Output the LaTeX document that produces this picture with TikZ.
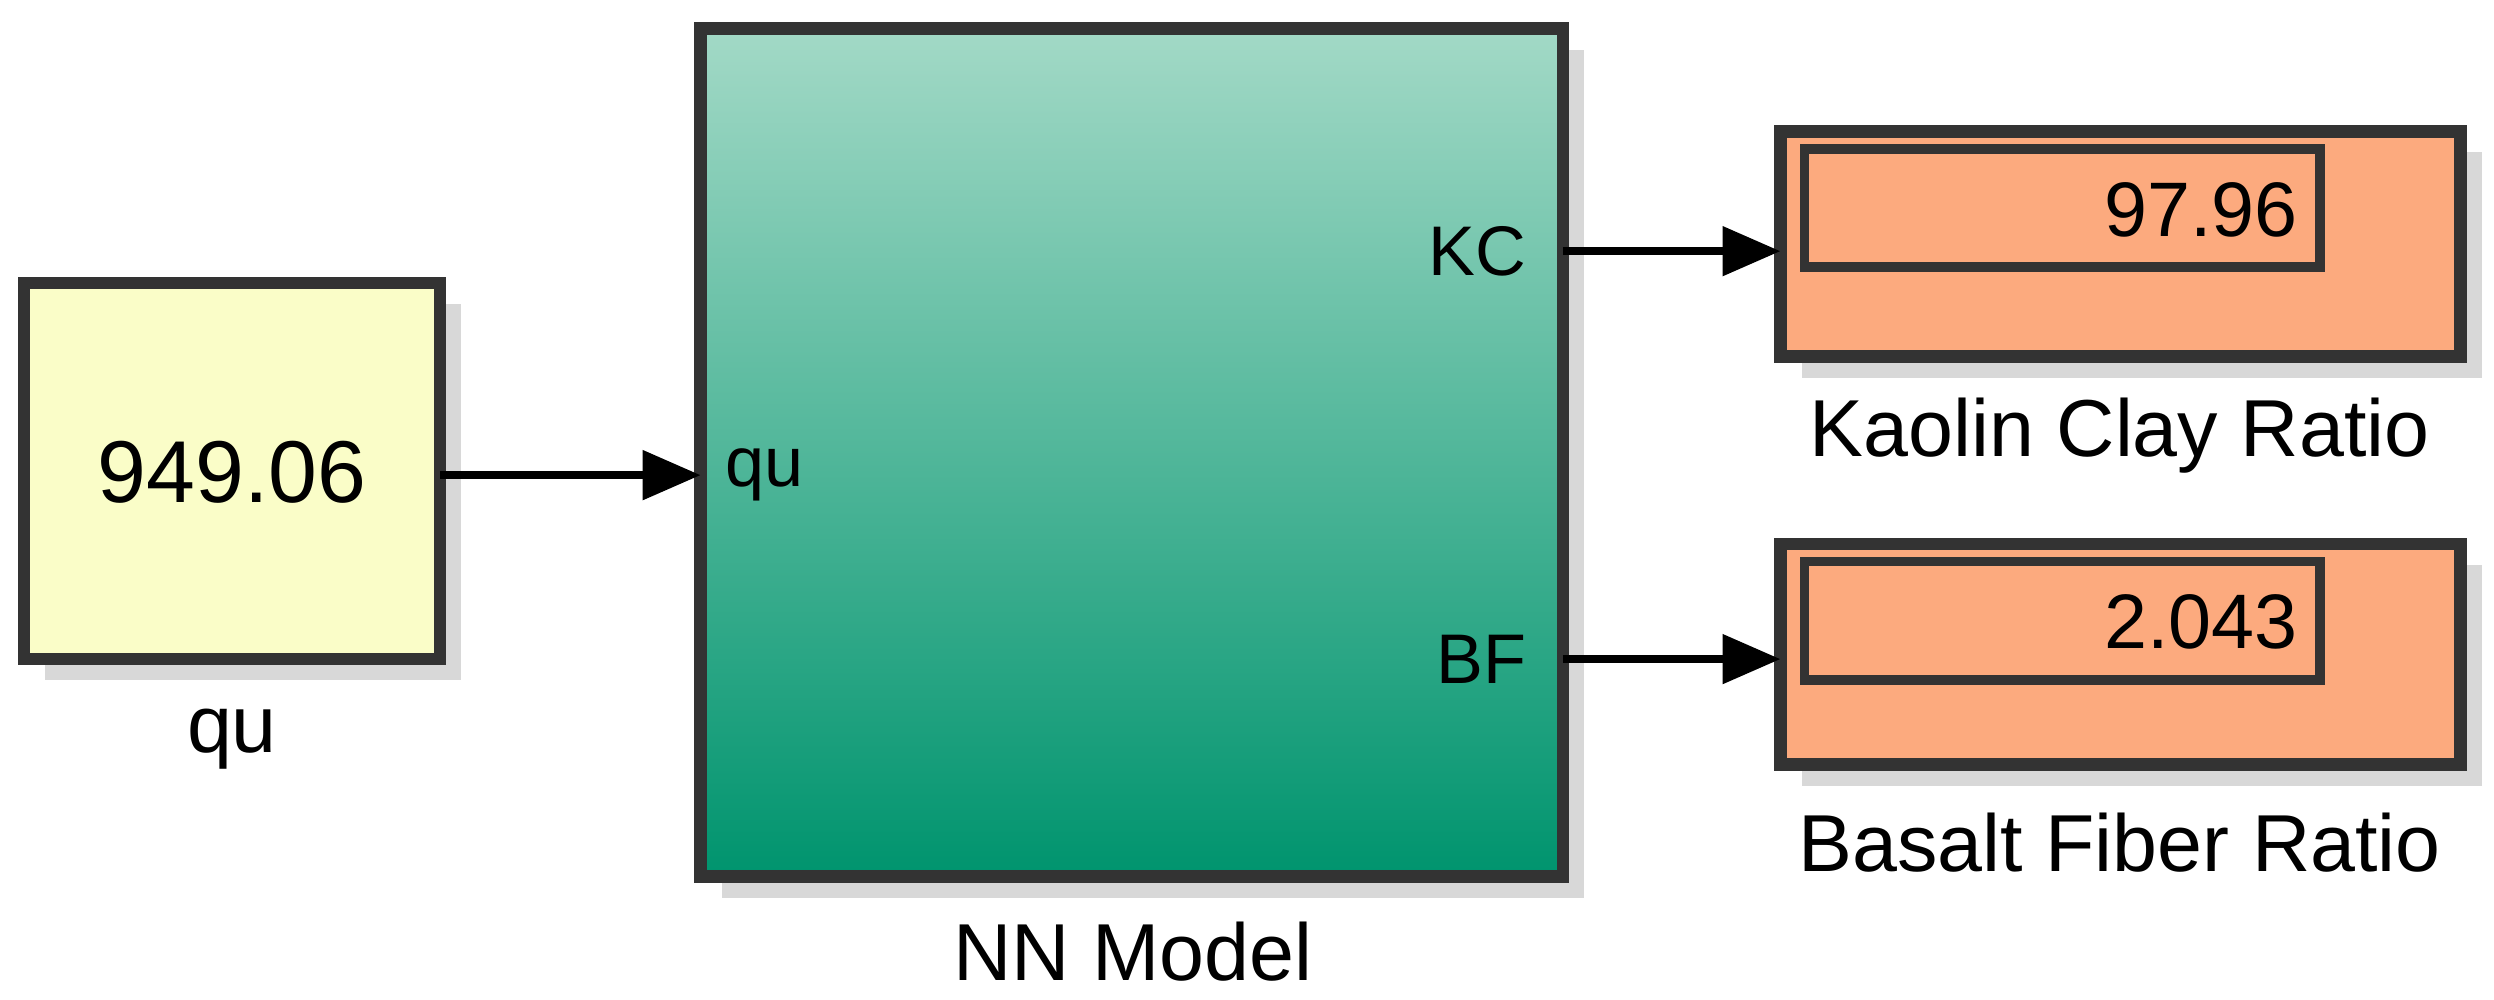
\documentclass[tikz,border=0pt]{standalone}
\usepackage{fontspec}
\setmainfont{Liberation Sans}
\usetikzlibrary{arrows.meta,shadows}
\definecolor{cyel}{HTML}{FAFDC8}
\definecolor{corg}{HTML}{FCAA7E}
\definecolor{gtop}{HTML}{A2D9C6}
\definecolor{gbot}{HTML}{00946E}
\definecolor{bord}{HTML}{333333}
\begin{document}
\begin{tikzpicture}[x=0.016cm,y=-0.016cm,
  blk/.style={draw=bord,line width=3.6pt,drop shadow={shadow xshift=6pt,shadow yshift=-6pt,fill=gray!60}},
  sig/.style={line width=2.4pt,-{Triangle[length=0.58cm,width=0.48cm]}},
  lbl/.style={font=\fontsize{23}{26}\selectfont},
  prt/.style={font=\fontsize{20}{24}\selectfont}]
\useasboundingbox (0,0) rectangle (1559,625);
\fill[white] (0,0) rectangle (1559,625);
% constant
\draw[blk,fill=cyel] (15,177) rectangle (275,412);
\node[font=\fontsize{25}{28}\selectfont] (cval) at (145,295) {949.06};
\coordinate (cout) at (275,297);
\node[lbl] (clbl) at (145,462) {qu};
% NN model
\draw[blk,fill=gtop] (438,18) rectangle (977,548);
\shade[top color=gtop,bottom color=gbot] (439.5,19.5) rectangle (975.5,546.5);
\draw[draw=bord,line width=3.6pt] (438,18) rectangle (977,548);
\node[prt,anchor=west] (pin) at (446,297) {qu};
\node[prt,anchor=east] (pkc) at (962,157) {KC};
\node[prt,anchor=east] (pbf) at (962,412) {BF};
\coordinate (nin) at (438,297);
\coordinate (nkc) at (977,157);
\coordinate (nbf) at (977,412);
\node[lbl] (nlbl) at (708,595) {NN Model};
% displays
\draw[blk,fill=corg] (1113,82) rectangle (1538,223);
\draw[bord,line width=2.8pt] (1128,93) rectangle (1450,167);
\node[font=\fontsize{22}{25}\selectfont,anchor=east] (d1) at (1444,131) {97.96};
\node[lbl] (l1) at (1325,272) {Kaolin Clay Ratio};
\coordinate (d1in) at (1113,157);
\draw[blk,fill=corg] (1113,340) rectangle (1538,478);
\draw[bord,line width=2.8pt] (1128,351) rectangle (1450,425);
\node[font=\fontsize{22}{25}\selectfont,anchor=east] (d2) at (1444,389) {2.043};
\node[lbl] (l2) at (1325,527) {Basalt Fiber Ratio};
\coordinate (d2in) at (1113,412);
% signals
\draw[sig] (cout) -- (nin);
\draw[sig] (nkc) -- (d1in);
\draw[sig] (nbf) -- (d2in);
\end{tikzpicture}
\end{document}
